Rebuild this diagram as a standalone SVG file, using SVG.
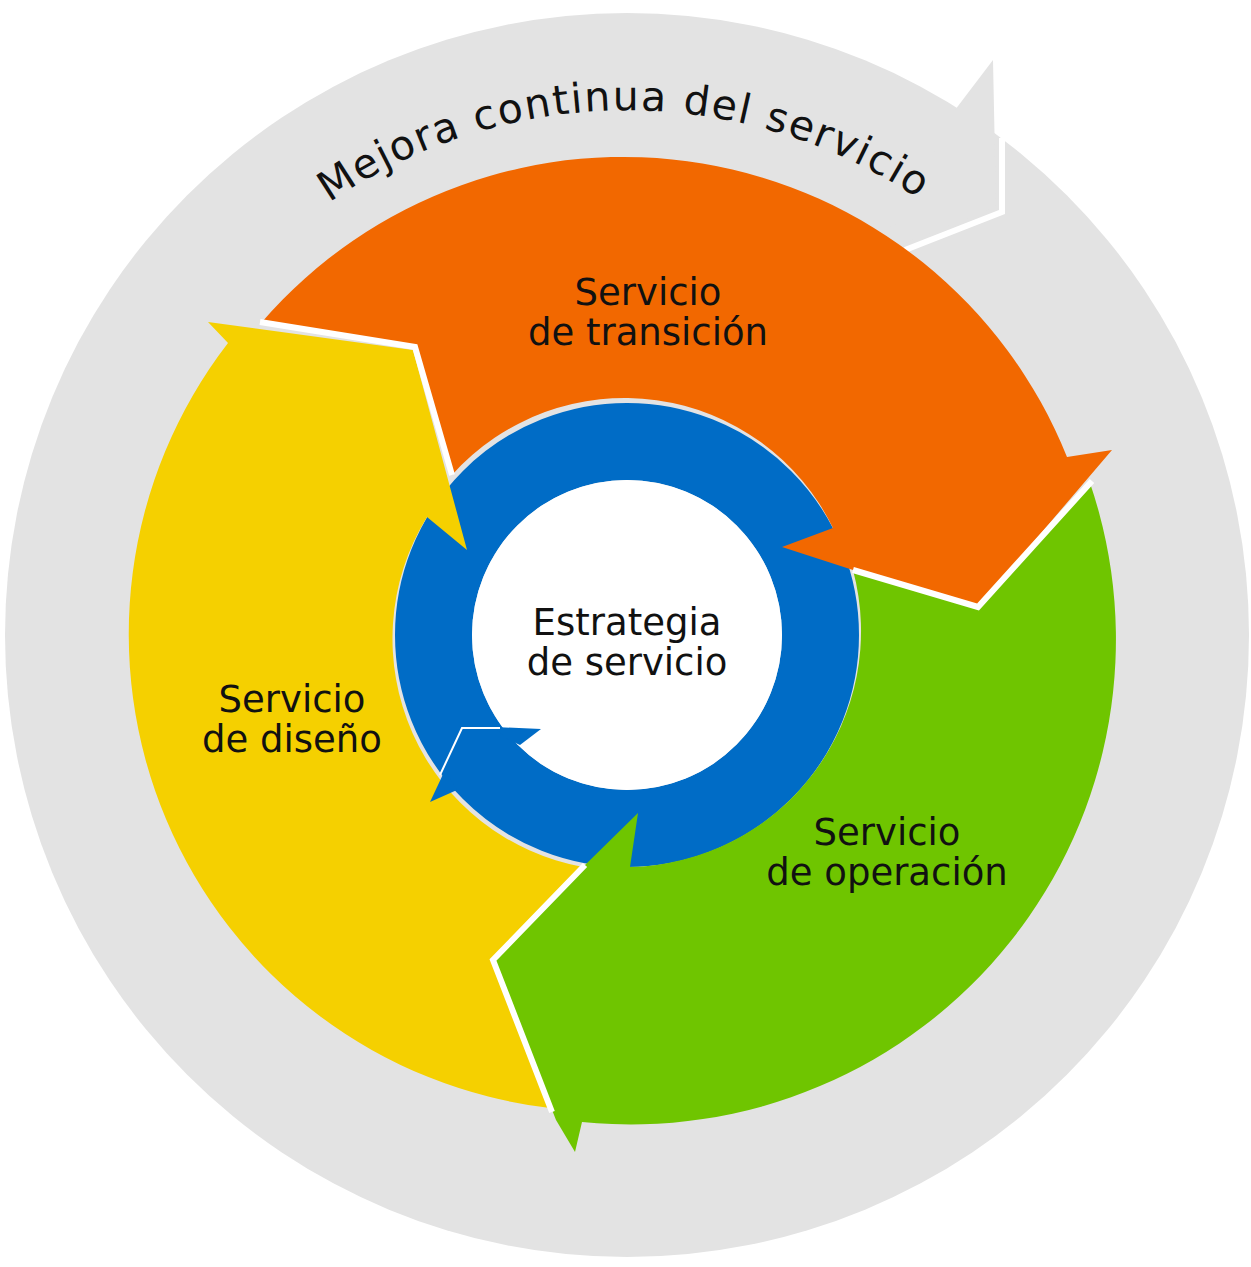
<svg xmlns="http://www.w3.org/2000/svg" width="1251" height="1267" viewBox="0 0 1251 1267">
<style>
.lbl{font-family:"DejaVu Sans",Verdana,sans-serif;font-size:37px;fill:#111;text-anchor:middle}
.sep{fill:none;stroke:#fff;stroke-width:6;stroke-linejoin:miter}
</style>
<defs>
<path id="arcText" d="M326,205 A525,525 0 0 1 964,233"/>
</defs>
<rect width="1251" height="1267" fill="#fff"/>
<g id="mejora">
<circle cx="627" cy="635" r="622" fill="#e3e3e3"/>
<polygon points="955,110 993,60 996,207 857,262 877,232 900,222" fill="#e3e3e3"/>
<polyline class="sep" points="1002,138 1002,212 905,250"/>
<text font-family="DejaVu Sans,Verdana,sans-serif" font-size="41" fill="#111"><textPath href="#arcText" startOffset="4" textLength="625" lengthAdjust="spacing">Mejora continua del servicio</textPath></text>
</g>
<g id="estrategia">
<circle cx="627" cy="635" r="193.5" fill="none" stroke="#006cc6" stroke-width="77"/>
<circle cx="627" cy="635" r="155" fill="#fff"/>
</g>
<g id="diseno">
<path d="M208,322 L413,350 L467,550 L427,517 A232,232 0 0 0 583,867 L493,960 L550,1108 A477,477 0 0 1 228,343 Z" fill="#f5d000"/>
<text class="lbl" x="292" y="712">Servicio</text>
<text class="lbl" x="292" y="752">de diseño</text>
</g>
<g id="operacion">
<path d="M1090,483 L978,607 L853,570 A236,236 0 0 1 630,867 L638,813 L583,867 L493,960 L556,1120 L575,1152 L582,1122 A485,485 0 0 0 1090,483 Z" fill="#6fc500"/>
<text class="lbl" x="887" y="845">Servicio</text>
<text class="lbl" x="887" y="885">de operación</text>
</g>
<g id="transicion">
<path d="M262,322 A478,478 0 0 1 1067,457 L1112,450 L978,607 L853,570 L782,547 L833,528 A232,232 0 0 0 452,475 L415,347 Z" fill="#f26800"/>
<text class="lbl" x="648" y="305">Servicio</text>
<text class="lbl" x="648" y="345">de transición</text>
</g>
<g id="connectors">
<polygon points="445,770 430,802 457,790" fill="#006cc6"/>
<polygon points="495,727 541,729 520,745 505,738" fill="#006cc6"/>
<polyline fill="none" stroke="#fff" stroke-width="2" points="440,775 462,728 500,728"/>
<polyline class="sep" points="260,322 415,347 452,475"/>
<polyline class="sep" points="1092,481 978,607 853,570"/>
<polyline class="sep" points="585,865 493,960 552,1112"/>
</g>
<g id="centro">
<text class="lbl" x="627" y="635">Estrategia</text>
<text class="lbl" x="627" y="675">de servicio</text>
</g>
</svg>
